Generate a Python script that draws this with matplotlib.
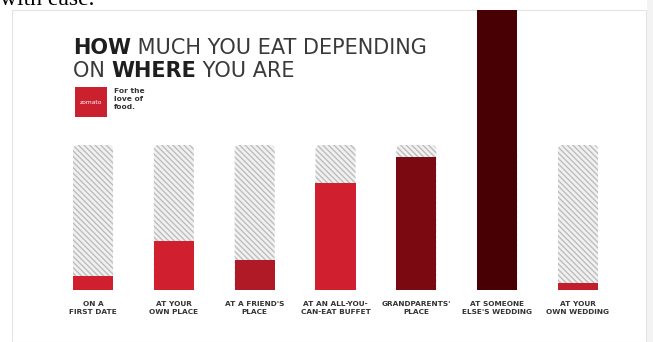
import numpy as np
import matplotlib.pyplot as plt
from matplotlib.patches import FancyBboxPatch, Rectangle

# --- dados ---
lugares = ["ON A\nFIRST DATE", "AT YOUR\nOWN PLACE", "AT A FRIEND'S\nPLACE",
           "AT AN ALL-YOU-\nCAN-EAT BUFFET", "GRANDPARENTS'\nPLACE",
           "AT SOMEONE\nELSE'S WEDDING", "AT YOUR\nOWN WEDDING"]
quanto = [10, 34, 21, 74, 92, 200, 5]   # % da "capacidade"
capacidade = [100, 100, 100, 100, 100, 100, 100]
cores = ["#d01f2e", "#d01f2e", "#b01a26", "#d01f2e", "#7b0912", "#480005", "#c41e2c"]

W, H = 653, 342
fig = plt.figure(figsize=(W / 100, H / 100), dpi=100)
fig.patch.set_facecolor("white")

# painel do infografico
fig.patches.append(Rectangle((12 / W, 0), 634 / W, 332 / H, transform=fig.transFigure,
                             facecolor="white", edgecolor="#e4e4e4", linewidth=0.8, zorder=-5))
fig.patches.append(Rectangle((647 / W, 0), 6 / W, 1, transform=fig.transFigure,
                             facecolor="#f3f3f3", edgecolor="none", zorder=-5))

# texto cortado da pagina de cima
fig.text(0.0, 1 - 5 / H, "with ease.", family="Liberation Serif", fontsize=17,
         va="baseline", ha="left", color="black")

# --- eixo das barras ---
ax = fig.add_axes([52.6 / W, 52 / H, 565.8 / W, 280 / H])
ax.set_xlim(-0.5, 6.5)
ax.set_ylim(0, 280 / 145 * 100)
ax.set_facecolor("none")
for s in ax.spines.values():
    s.set_visible(False)

x = np.arange(len(lugares))
larg = 0.495
px_x = 565.8 / 7
px_y = 145 / 100
for xi, cap in zip(x, capacidade):
    fundo = FancyBboxPatch((xi - larg / 2, 0), larg, cap,
                           boxstyle="round,pad=0,rounding_size=0.06",
                           mutation_aspect=px_x / px_y,
                           facecolor="#f1f1f1", edgecolor="#bdbdbd",
                           hatch="\\\\\\\\\\\\", linewidth=0, zorder=1)
    ax.add_patch(fundo)

ax.bar(x, quanto, width=larg, color=cores, zorder=2)

ax.set_xticks(x)
ax.set_xticklabels(lugares, fontsize=5.3, fontweight="bold", color="#333333",
                   linespacing=1.3)
ax.tick_params(axis="x", length=0, pad=8)
ax.set_yticks([])

# --- titulo ---
fs = 15
t1 = fig.text(73 / W, (H - 54) / H, "HOW", fontsize=fs, fontweight="bold",
              color="#1e1e1e", va="baseline")
ax.annotate(" MUCH YOU EAT DEPENDING", xy=(1, 0), xycoords=t1, fontsize=fs,
            fontweight="normal", color="#3a3a3a", va="bottom", annotation_clip=False)
t2 = fig.text(73 / W, (H - 77) / H, "ON ", fontsize=fs, fontweight="normal",
              color="#3a3a3a", va="baseline")
t3 = ax.annotate("WHERE", xy=(1, 0), xycoords=t2, fontsize=fs, fontweight="bold",
                 color="#1e1e1e", va="bottom", annotation_clip=False)
ax.annotate(" YOU ARE", xy=(1, 0), xycoords=t3, fontsize=fs, fontweight="normal",
            color="#3a3a3a", va="bottom", annotation_clip=False)

# logo zomato
fig.patches.append(Rectangle((75 / W, (H - 117) / H), 32 / W, 30 / H, transform=fig.transFigure,
                             facecolor="#cb202d", edgecolor="none"))
fig.text(91 / W, (H - 102) / H, "zomato", fontsize=4.3, color="white",
         ha="center", va="center")
fig.text(114 / W, (H - 88) / H, "For the\nlove of\nfood.", fontsize=5.4,
         fontweight="bold", color="#333333", va="top", ha="left", linespacing=1.4)

plt.savefig("out.png", dpi=100)
